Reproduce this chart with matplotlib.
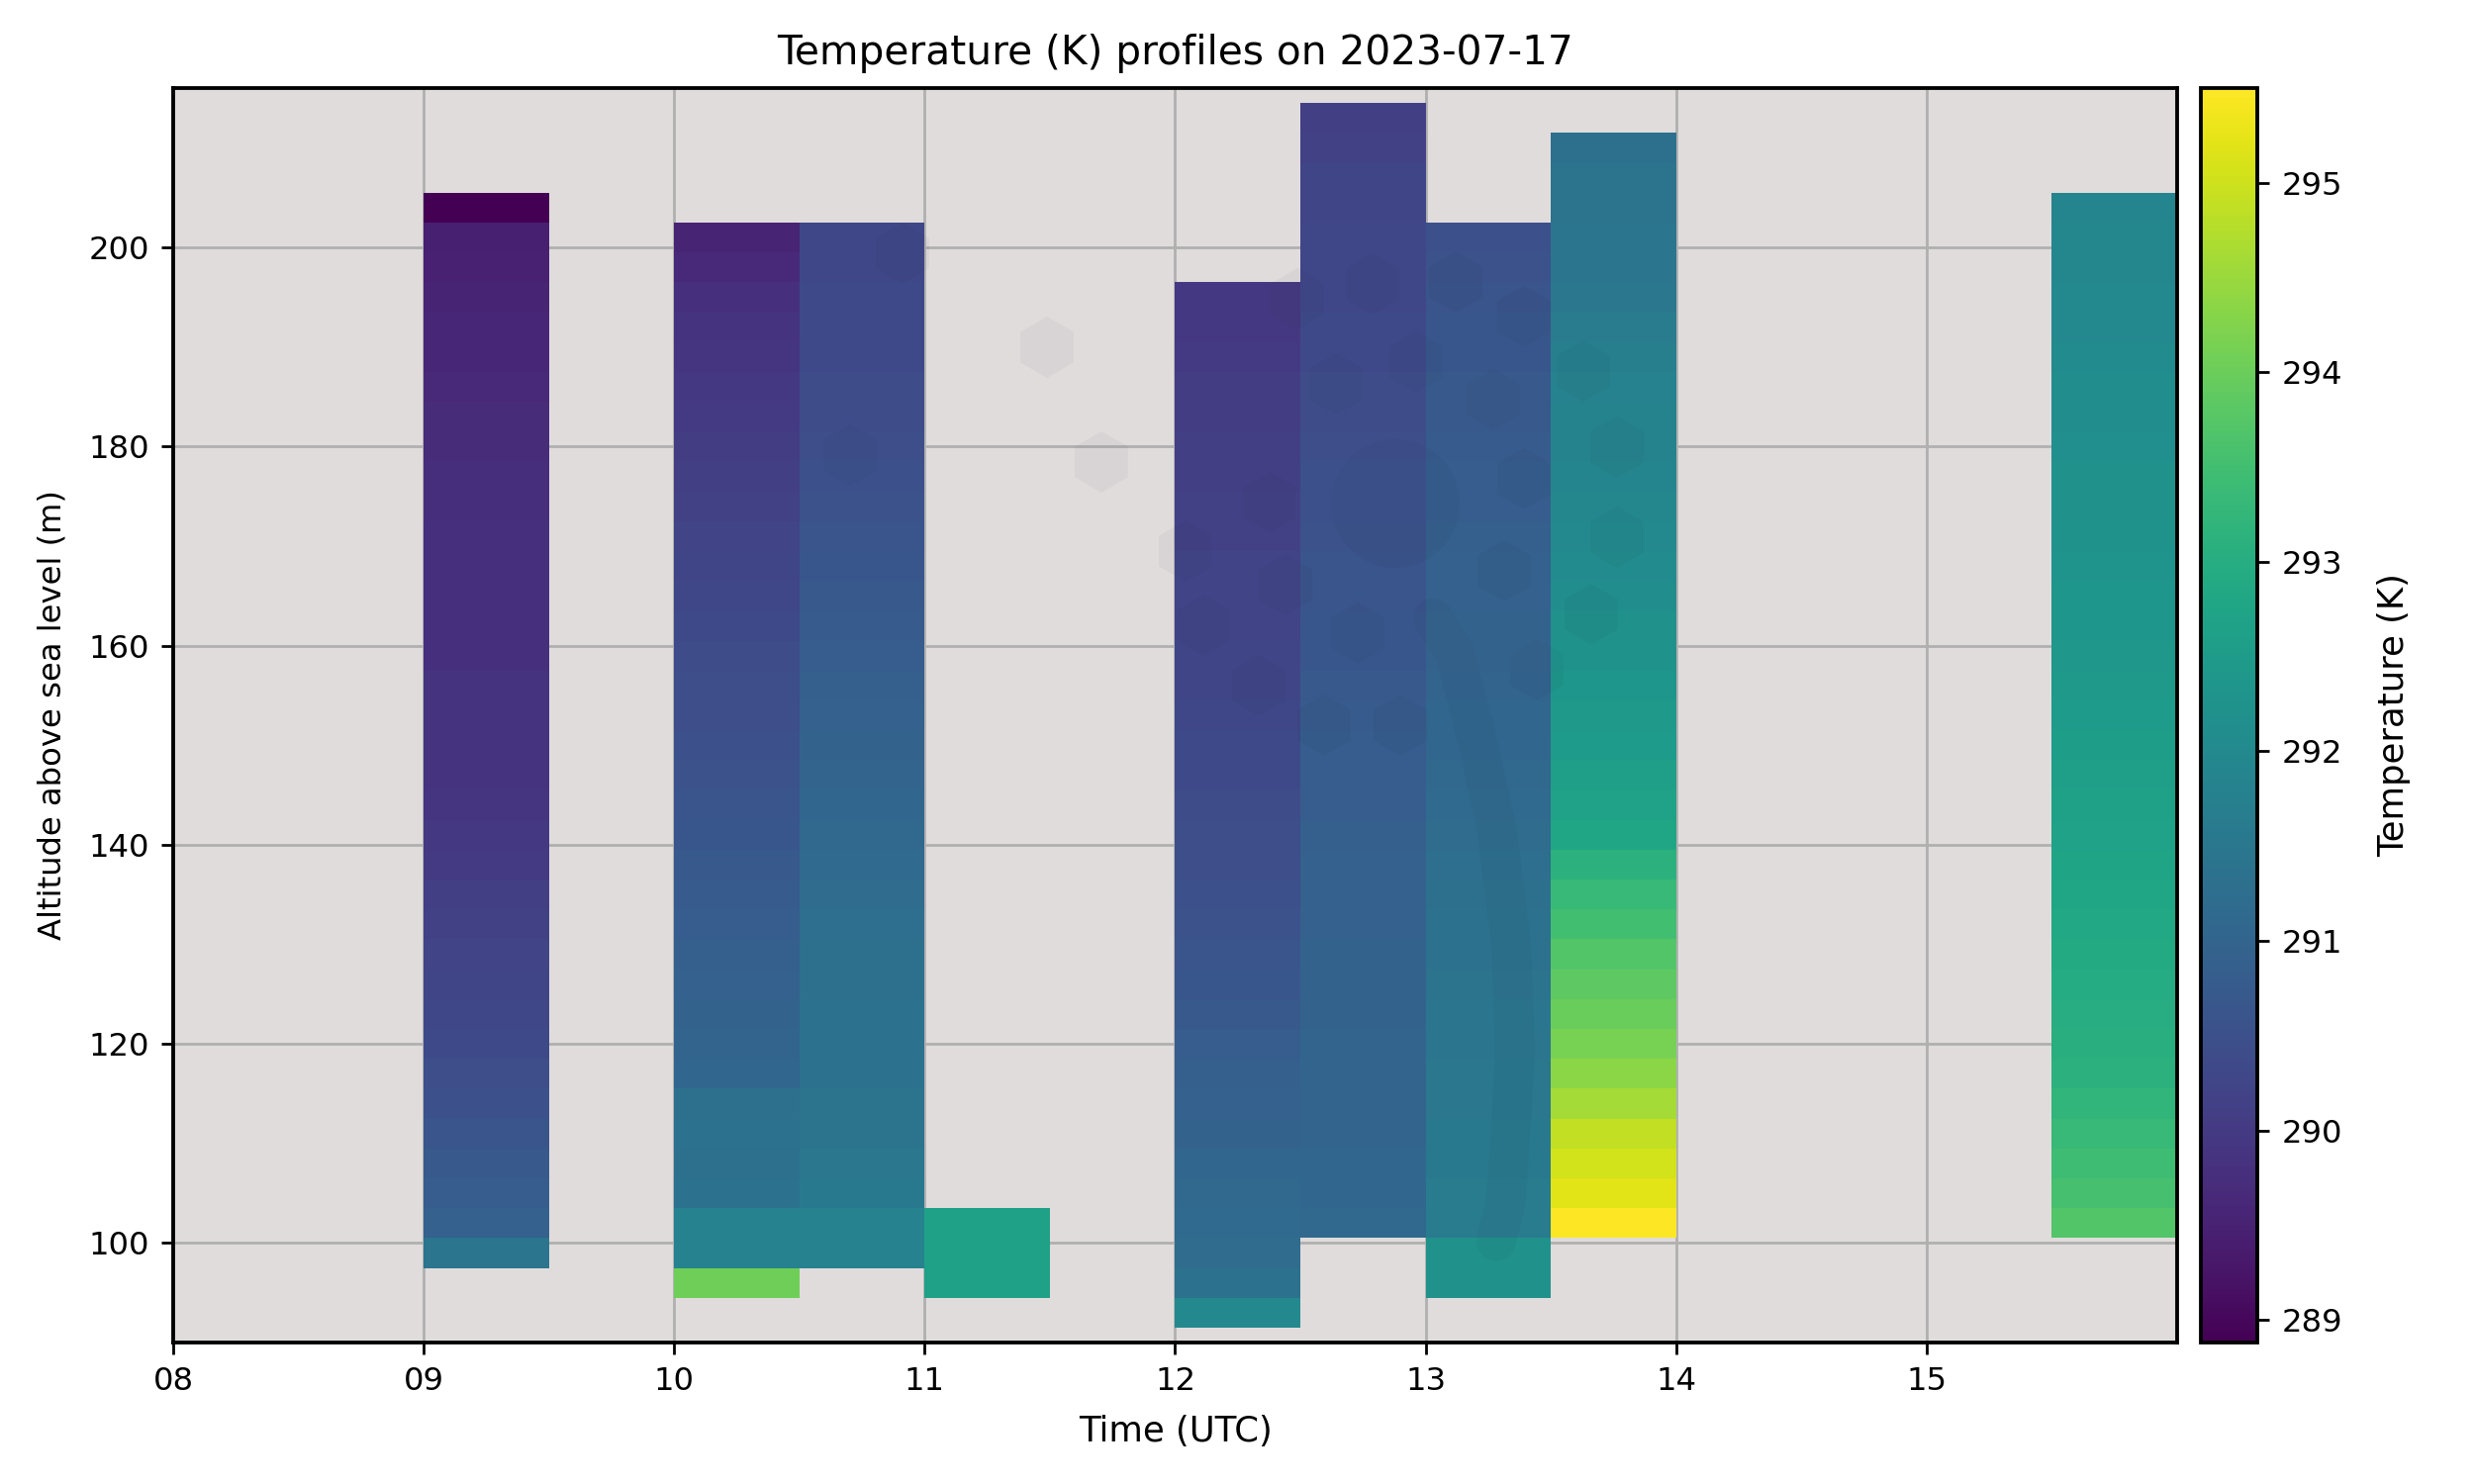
import numpy as np
import pandas as pd
import matplotlib
matplotlib.use('Agg')
import matplotlib.pyplot as plt
import matplotlib.dates as mdates
from matplotlib.patches import RegularPolygon, Circle

day = '2023-07-17'

# start of each half-hour profile and centre altitude (m) of its lowest 3 m cell
profile_starts = ['09:00', '10:00', '10:30', '11:00', '12:00', '12:30', '13:00', '13:30', '15:30']
profile_lowest_alt = [99, 96, 99, 96, 93, 102, 96, 102, 102]

# temperatures (K), bottom cell first
temp_0900 = [291.45, 290.9, 290.8, 290.7, 290.6, 290.5, 290.45, 290.35, 290.3, 290.25,
             290.2, 290.15, 290.1, 290.0, 289.95, 289.9, 289.85, 289.85, 289.85, 289.85,
             289.8, 289.8, 289.8, 289.8, 289.8, 289.75, 289.75, 289.7, 289.7, 289.65,
             289.6, 289.6, 289.55, 289.5, 289.45, 288.88]
temp_1000 = [294.05, 291.8, 291.8, 291.35, 291.3, 291.35, 291.3, 291.05, 291.0, 290.95,
             290.9, 290.85, 290.8, 290.75, 290.7, 290.65, 290.6, 290.55, 290.5, 290.45,
             290.45, 290.4, 290.35, 290.3, 290.25, 290.2, 290.15, 290.1, 290.05, 290.0,
             289.95, 289.9, 289.85, 289.8, 289.65, 289.55]
temp_1030 = [291.8, 291.8, 291.55, 291.5, 291.4, 291.4, 291.35, 291.35, 291.35, 291.3,
             291.3, 291.25, 291.2, 291.15, 291.1, 291.05, 291.0, 290.95, 290.9, 290.85,
             290.8, 290.75, 290.7, 290.65, 290.6, 290.55, 290.5, 290.45, 290.4, 290.4,
             290.35, 290.35, 290.35, 290.3, 290.3]
temp_1100 = [292.65, 292.65, 292.65]
temp_1200 = [292.0, 291.35, 291.2, 291.15, 291.1, 291.05, 290.95, 290.9, 290.85, 290.8,
             290.7, 290.65, 290.6, 290.55, 290.5, 290.45, 290.45, 290.4, 290.35, 290.35,
             290.3, 290.25, 290.25, 290.2, 290.2, 290.2, 290.15, 290.15, 290.1, 290.1,
             290.05, 290.05, 290.0, 289.95, 289.95]
temp_1230 = [291.1, 291.05, 291.05, 291.0, 291.0, 291.0, 290.98, 290.95, 290.95, 290.95,
             290.92, 290.9, 290.9, 290.85, 290.8, 290.8, 290.8, 290.75, 290.7, 290.65,
             290.65, 290.6, 290.6, 290.55, 290.5, 290.5, 290.45, 290.4, 290.4, 290.35,
             290.35, 290.3, 290.3, 290.3, 290.25, 290.25, 290.15, 290.1]
temp_1300 = [292.2, 292.2, 291.6, 291.6, 291.55, 291.55, 291.5, 291.5, 291.45, 291.45,
             291.4, 291.35, 291.35, 291.3, 291.25, 291.2, 291.15, 291.1, 291.05, 291.05,
             291.0, 290.95, 290.95, 290.9, 290.9, 290.85, 290.8, 290.8, 290.75, 290.7,
             290.7, 290.65, 290.65, 290.6, 290.55, 290.5]
temp_1330 = [295.5, 295.2, 295.05, 294.9, 294.6, 294.35, 294.15, 294.0, 293.85, 293.7,
             293.5, 293.35, 293.1, 292.8, 292.7, 292.6, 292.5, 292.45, 292.35, 292.25,
             292.2, 292.1, 292.05, 292.0, 291.95, 291.9, 291.85, 291.85, 291.8, 291.7,
             291.6, 291.5, 291.45, 291.45, 291.4, 291.4, 291.3]
temp_1530 = [293.7, 293.55, 293.45, 293.35, 293.2, 293.1, 293.05, 293.0, 292.95, 292.9,
             292.85, 292.8, 292.75, 292.7, 292.65, 292.6, 292.55, 292.5, 292.45, 292.4,
             292.35, 292.35, 292.3, 292.25, 292.2, 292.2, 292.15, 292.1, 292.1, 292.05,
             292.0, 292.0, 291.95, 291.95, 291.9]
profile_temps = [temp_0900, temp_1000, temp_1030, temp_1100, temp_1200,
                 temp_1230, temp_1300, temp_1330, temp_1530]

# grid: 3 m altitude cells, 30 min time bins
alt_step = 3
alt_edges = np.arange(91.5, 214.5 + 0.1, alt_step)
alt_centers = alt_edges[:-1] + alt_step / 2
time_edges = pd.date_range(f'{day} 08:00', f'{day} 16:00', freq='30min')

grid = np.full((len(alt_centers), len(time_edges) - 1), np.nan)
for start, low, temps in zip(profile_starts, profile_lowest_alt, profile_temps):
    col = time_edges.get_loc(pd.Timestamp(f'{day} {start}'))
    row = int(round((low - alt_centers[0]) / alt_step))
    grid[row:row + len(temps), col] = temps

x_edges = mdates.date2num(time_edges.to_pydatetime())

plt.rcParams['font.family'] = 'DejaVu Sans'
fig = plt.figure(figsize=(10, 6), dpi=250)
ax = fig.add_axes([0.07, 0.0953, 0.81, 0.8454])
ax.set_facecolor('#e0dcdc')

mesh = ax.pcolormesh(x_edges, alt_edges, np.ma.masked_invalid(grid),
                     cmap='viridis', shading='flat')

ax.set_xlim(x_edges[0], x_edges[-1])
ax.set_ylim(90, 216)
ax.set_xticks(x_edges[:-1:2])
ax.xaxis.set_major_formatter(mdates.DateFormatter('%H'))
ax.set_yticks([100, 120, 140, 160, 180, 200])
ax.grid(True, color='#b0b0b0', linewidth=0.8)
ax.set_axisbelow(True)
ax.tick_params(labelsize=9.3, length=3.5, width=0.8)
for sp in ax.spines.values():
    sp.set_linewidth(1.1)

ax.set_title(f'Temperature (K) profiles on {day}', fontsize=11.7, pad=7)
ax.set_xlabel('Time (UTC)', fontsize=10.2, labelpad=5)
ax.set_ylabel('Altitude above sea level (m)', fontsize=9.3, labelpad=6)

cax = fig.add_axes([0.8896, 0.0953, 0.0228, 0.8454])
cb = fig.colorbar(mesh, cax=cax)
cb.set_label('Temperature (K)', fontsize=10.2, labelpad=10)
cb.ax.tick_params(labelsize=9.3, length=3.5, width=0.8)
cb.outline.set_linewidth(1.1)

# faint logo watermark laid over the plot area (pixel coordinates from top-left)
wax = fig.add_axes(ax.get_position().bounds, zorder=5)
wax.set_xlim(175, 2200)
wax.set_ylim(1357, 89)
wax.axis('off')
wm_color = '#1c2630'
wm_alpha = 0.04
hex_centres = [(912, 256), (1058, 351), (1113, 467), (859, 460), (1198, 557), (1216, 632),
               (1283, 508), (1299, 591), (1272, 693), (1311, 302), (1387, 287), (1350, 388),
               (1431, 366), (1372, 640), (1338, 733), (1415, 733), (1471, 285), (1540, 320),
               (1509, 404), (1540, 484), (1520, 577), (1553, 677), (1600, 375), (1634, 452),
               (1634, 543), (1608, 621)]
for cx, cy in hex_centres:
    wax.add_patch(RegularPolygon((cx, cy), 6, radius=31, color=wm_color,
                                 alpha=wm_alpha, linewidth=0))
wax.add_patch(Circle((1410, 509), 65, color=wm_color, alpha=wm_alpha, linewidth=0))
swoosh_x = [1448, 1470, 1494, 1513, 1527, 1531, 1527, 1522, 1512]
swoosh_y = [625, 660, 753, 840, 957, 1060, 1135, 1212, 1255]
wax.plot(swoosh_x, swoosh_y, color=wm_color, alpha=wm_alpha, linewidth=11.5,
         solid_capstyle='round', solid_joinstyle='round')

fig.savefig('out.png', dpi=250)
